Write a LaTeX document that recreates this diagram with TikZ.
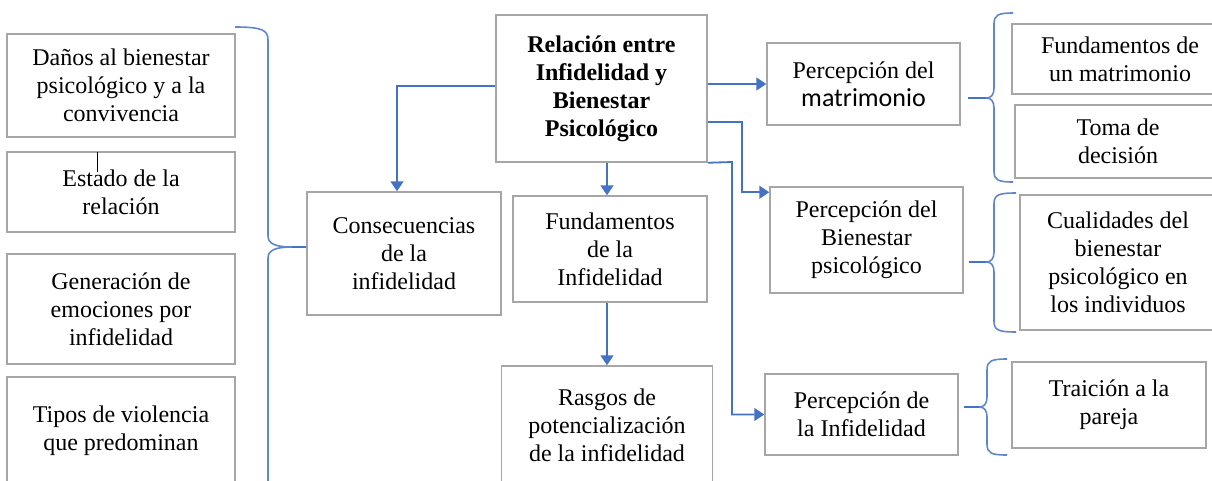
\documentclass[tikz,border=0pt]{standalone}
\usepackage{fontspec}
\setmainfont{LiberationSerif}[Extension=.ttf, UprightFont=*-Regular, BoldFont=*-Bold, ItalicFont=*-Italic, BoldItalicFont=*-BoldItalic]
\newfontfamily\calibrifont{Carlito}
\usetikzlibrary{arrows.meta}
\definecolor{boxgray}{HTML}{A6A6A6}
\definecolor{linkblue}{HTML}{4472C4}

\begin{document}
\begin{tikzpicture}[x=1pt, y=-1pt,
    every node/.style={align=center, font=\fontsize{24}{28}\selectfont},
    box/.style={rectangle, draw=boxgray, line width=1.5pt},
    link/.style={draw=linkblue, line width=1.8pt},
    arr/.style={link, -{Triangle[width=13pt, length=10pt]}},
    brace/.style={draw=linkblue!85, line width=1.6pt}]
				\fill[white] (0,0) rectangle (1212,480);
				\useasboundingbox (0,0) rectangle (1212,480);
				\clip (0,0) rectangle (1212,480);

				% Nodes
				\node (main) [box, minimum width=211pt, minimum height=147pt] at (601.5,88.5) {\textbf{Relación entre}\\\textbf{Infidelidad y}\\\textbf{Bienestar}\\\textbf{Psicológico}};
				\node (cons) [box, minimum width=194pt, minimum height=123pt] at (404,253.5) {Consecuencias\\de la\\infidelidad};
				\node (fund) [box, minimum width=194pt, minimum height=106pt] at (610,249) {Fundamentos\\de la\\Infidelidad};
				\node (rasg) [box, minimum width=211pt, minimum height=118pt] at (607,425) {Rasgos de\\potencialización\\de la infidelidad};

				\node (dano) [box, minimum width=228pt, minimum height=103pt] at (121,85.5) {Daños al bienestar\\psicológico y a la\\convivencia};
				\node (esta) [box, minimum width=228pt, minimum height=80pt] at (121,192) {Estado de la\\relación};
				\node (gene) [box, minimum width=228pt, minimum height=110pt] at (121,309) {Generación de\\emociones por\\infidelidad};
				\node (tipo) [box, minimum width=228pt, minimum height=108pt] at (121,431) {Tipos de violencia\\que predominan};

				\node (pmat) [box, minimum width=193pt, minimum height=82pt] at (863.5,84) {Percepción del\\{\calibrifont\fontsize{26}{28}\selectfont matrimonio}};
				\node (pbie) [box, minimum width=193pt, minimum height=106pt] at (866.5,240) {Percepción del\\Bienestar\\psicológico};
				\node (pinf) [box, minimum width=193pt, minimum height=81pt] at (861.5,414.5) {Percepción de\\la Infidelidad};

				\node (fmat) [box, minimum width=216pt, minimum height=70pt] at (1120,59) {Fundamentos de\\un matrimonio};
				\node (toma) [box, minimum width=206pt, minimum height=73pt] at (1118,141.5) {Toma de\\decisión};
				\node (cual) [box, minimum width=196pt, minimum height=135pt] at (1118,262.5) {Cualidades del\\bienestar\\psicológico en\\los individuos};
				\node (trai) [box, minimum width=194pt, minimum height=86pt] at (1109,405) {Traición a la\\pareja};

				\draw[black, line width=1pt] (97,152) -- (97,172);

				% Braces
				\coordinate (ltip) at (292,247);
				\coordinate (tipa) at (986,98);
				\coordinate (tipb) at (986,262);
				\coordinate (tipc) at (979,407);
				\draw[brace] (235,27) .. controls (262,27) and (268,30) .. (268,40) -- (268,236) .. controls (268,244) and (276,247) .. (ltip) .. controls (276,247) and (268,250) .. (268,258) -- (268,490);
				\draw[brace] (1013,13) .. controls (998,13) and (994,15) .. (994,24) -- (994,88) .. controls (994,95) and (991,98) .. (tipa) .. controls (991,98) and (994,101) .. (994,108) -- (994,171) .. controls (994,180) and (998,182) .. (1013,182);
				\draw[brace] (1016,193) .. controls (998,193) and (994,195) .. (994,204) -- (994,252) .. controls (994,259) and (991,262) .. (tipb) .. controls (991,262) and (994,265) .. (994,272) -- (994,321) .. controls (994,330) and (998,332) .. (1016,332);
				\draw[brace] (1007,359) .. controls (991,359) and (987,361) .. (987,370) -- (987,397) .. controls (987,404) and (984,407) .. (tipc) .. controls (984,407) and (987,410) .. (987,417) -- (987,444) .. controls (987,453) and (991,455) .. (1007,455);

				% Arrows
				\draw[arr] (main.west |- 0,86) -| ([xshift=-7pt]cons.north);
				\draw[arr] (main.south -| rasg.north) -- (fund.north -| rasg.north);
				\draw[arr] (fund.south -| rasg.north) -- (rasg.north);
				\draw[arr] (main.east |- pmat.west) -- (pmat.west);
				\draw[arr] (main.east |- 0,122) -- (742,122) |- ([yshift=-6pt]pbie.north west);
				\draw[arr] (main.south east) -- (732,162) |- (pinf.west);
				\draw[link] (ltip) -- (ltip -| cons.west);
				\draw[link] ([xshift=7pt]pmat.east |- tipa) -- (tipa);
				\draw[link] ([xshift=5pt]pbie.east |- tipb) -- (tipb);
				\draw[link] ([xshift=5pt]pinf.east |- tipc) -- (tipc);
			\end{tikzpicture}
\end{document}
